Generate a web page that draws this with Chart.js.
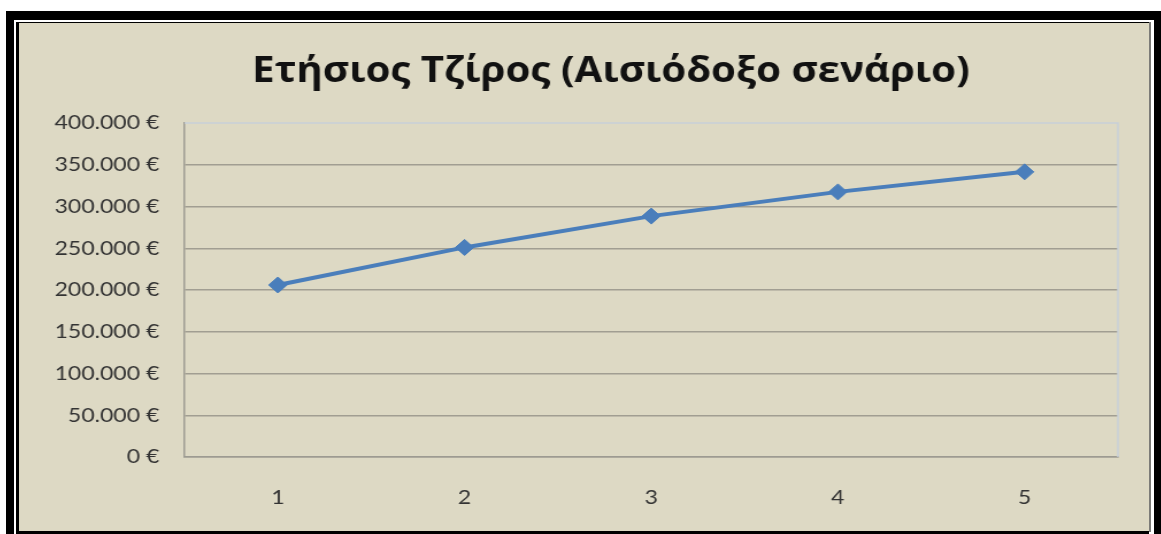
<!DOCTYPE html>
<html>
<head>
<meta charset="utf-8">
<script src="https://cdn.jsdelivr.net/npm/chart.js@4"></script>
<style>
  html, body { margin: 0; padding: 0; background: #ffffff; width: 1161px; height: 534px; overflow: hidden; }
  .abs { position: absolute; }
  #outer { left: 6px; top: 11px; width: 1155px; height: 523px; background: #000; }
  #white { left: 14px; top: 20px; width: 1140px; height: 514px; background: #fff; }
  #black2 { left: 16px; top: 22px; width: 1133px; height: 512px; background: #000; }
  #rline { left: 1149px; top: 22px; width: 2px; height: 510px; background: #7c7c78; }
  #panel { left: 19px; top: 23px; width: 1130px; height: 508px; background: #ddd9c4; overflow: hidden; }
  #wrap { position: absolute; left: 0; top: 0; transform: scaleX(1.1495); transform-origin: 0 0; }
  canvas { display: block; }
</style>
</head>
<body>
<div id="outer" class="abs"></div>
<div id="white" class="abs"></div>
<div id="black2" class="abs"></div>
<div id="rline" class="abs"></div>
<div id="panel" class="abs"><div id="wrap"><canvas id="c" width="1030" height="508"></canvas></div></div>
<script>
const titleText = 'Ετήσιος Τζίρος (Αισιόδοξο σενάριο)';
const categories = ['1', '2', '3', '4', '5'];
const revenue = [206000, 251000, 288500, 317500, 341500];
const yTicks = [0, 50000, 100000, 150000, 200000, 250000, 300000, 350000, 400000];

function fmtEuro(v) {
  return String(Math.round(v)).replace(/\B(?=(\d{3})+(?!\d))/g, '.') + ' €';
}

const frame = {
  id: 'frame',
  afterDraw(chart) {
    const a = chart.chartArea, ctx = chart.ctx;
    ctx.save();
    ctx.strokeStyle = '#c8d0d8';
    ctx.lineWidth = 1.5;
    ctx.beginPath();
    ctx.moveTo(a.left, a.top);
    ctx.lineTo(a.right, a.top);
    ctx.lineTo(a.right, a.bottom);
    ctx.stroke();
    ctx.restore();
  }
};

new Chart(document.getElementById('c'), {
  type: 'line',
  data: {
    labels: categories,
    datasets: [{
      data: revenue,
      yAxisID: 'y',
      borderColor: '#4a7ebb',
      backgroundColor: '#4a7ebb',
      borderWidth: 4,
      pointStyle: 'rectRot',
      pointRadius: 8,
      pointHoverRadius: 8,
      pointBorderWidth: 1,
      tension: 0
    }]
  },
  options: {
    responsive: false,
    animation: false,
    layout: { padding: 0 },
    plugins: {
      legend: { display: false },
      tooltip: { enabled: false },
      title: {
        display: true,
        text: titleText,
        color: '#111',
        font: { family: '"Open Sans", "Noto Sans", sans-serif', size: 35, weight: 'bold' },
        padding: { top: 28, bottom: 30 }
      }
    },
    scales: {
      x: {
        offset: true,
        grid: { display: false, drawTicks: false },
        border: { display: true, color: '#9d9b92', width: 1.5 },
        ticks: { color: '#333', font: { family: 'Lato, "Open Sans", sans-serif', size: 20 }, padding: 29 },
        afterFit(s) { s.height = 74; }
      },
      y: {
        position: 'left',
        min: 0,
        max: 400000,
        afterBuildTicks(s) { s.ticks = yTicks.map(v => ({ value: v })); },
        grid: {
          drawTicks: false,
          lineWidth: 1.5,
          color: c => (c.tick && c.tick.value === 400000) ? 'rgba(0,0,0,0)' : '#a19e92'
        },
        border: { display: true, color: '#9d9b92', width: 1.5 },
        ticks: {
          color: '#333',
          font: { family: 'Lato, "Open Sans", sans-serif', size: 20 },
          padding: 22,
          callback: v => fmtEuro(v)
        },
        afterFit(s) { s.width = 144; }
      },
      ySpace: {
        position: 'right',
        display: true,
        min: 0,
        max: 400000,
        grid: { display: false, drawTicks: false },
        border: { display: false },
        ticks: { display: false },
        afterFit(s) { s.width = 74; }
      }
    }
  },
  plugins: [frame]
});
</script>
</body>
</html>
